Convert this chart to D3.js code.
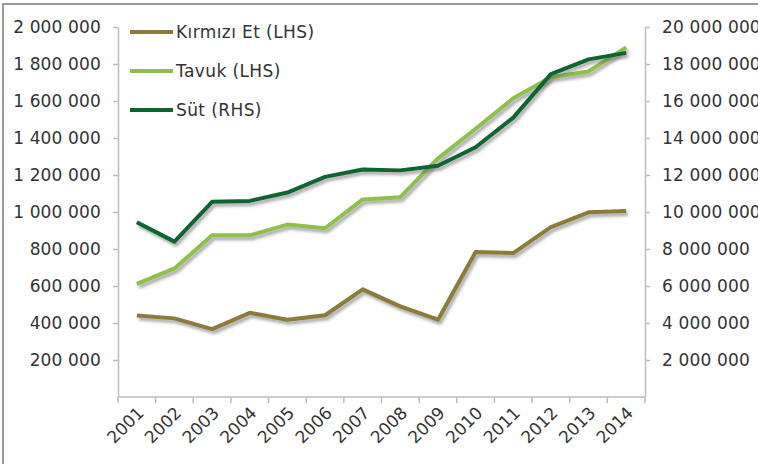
<!DOCTYPE html>
<html>
<head>
<meta charset="utf-8">
<script src="https://cdn.jsdelivr.net/npm/d3@7"></script>
<style>
  body { margin: 0; background: #fff; }
  text { font-family: 'DejaVu Sans', Verdana, sans-serif; fill: #333; }
</style>
</head>
<body>
<div id="chart"></div>
<script>
let years = ['2001', '2002', '2003', '2004', '2005', '2006', '2007',
  '2008', '2009', '2010', '2011', '2012', '2013', '2014']

let kirmiziEt = [440000, 425000, 367000, 455000, 418000, 442000, 582000,
  490000, 418000, 784000, 778000, 918000, 998000, 1005000]
let tavuk = [612000, 695000, 874000, 874000, 932000, 912000, 1068000,
  1080000, 1290000, 1450000, 1615000, 1728000, 1760000, 1890000]
let sut = [9450000, 8400000, 10550000, 10600000, 11050000, 11900000, 12300000,
  12250000, 12500000, 13500000, 15100000, 17450000, 18250000, 18600000]

let leftTicks = [200000, 400000, 600000, 800000, 1000000, 1200000, 1400000,
  1600000, 1800000, 2000000]
let rightTicks = [2000000, 4000000, 6000000, 8000000, 10000000, 12000000,
  14000000, 16000000, 18000000, 20000000]

let series = [
  { name: 'Kırmızı Et (LHS)', values: kirmiziEt, axis: 'left', color: '#8c7c3a' },
  { name: 'Tavuk (LHS)', values: tavuk, axis: 'left', color: '#8fc04d' },
  { name: 'Süt (RHS)', values: sut, axis: 'right', color: '#0b6630' }
]

let width = 758
let height = 464
let margin = { top: 27, left: 118, right: 113, bottom: 67 }

let svg = d3
  .select('#chart')
  .append('svg')
  .attr('width', width)
  .attr('height', height)

// frame
svg
  .append('rect')
  .attr('x', 3)
  .attr('y', 4)
  .attr('width', width + 10)
  .attr('height', height + 10)
  .attr('fill', 'none')
  .attr('stroke', '#9a9a9a')
  .attr('stroke-width', 2)

let defs = svg.append('defs')
defs
  .append('filter')
  .attr('id', 'shadow')
  .attr('x', '-10%')
  .attr('y', '-10%')
  .attr('width', '120%')
  .attr('height', '130%')
  .append('feDropShadow')
  .attr('dx', 2)
  .attr('dy', 3)
  .attr('stdDeviation', 1.6)
  .attr('flood-color', '#555')
  .attr('flood-opacity', 0.5)

let x = d3
  .scaleBand()
  .domain(years)
  .range([margin.left, width - margin.right])

let yLeft = d3
  .scaleLinear()
  .domain([0, 2000000])
  .range([height - margin.bottom, margin.top])

let yRight = d3
  .scaleLinear()
  .domain([0, 20000000])
  .range([height - margin.bottom, margin.top])

let fmt = d => d3.format(',')(d).replace(/,/g, ' ')

function styleAxis(g) {
  g.selectAll('path').attr('stroke', '#bdbdbd').attr('stroke-width', 1.5)
  g.selectAll('line').attr('stroke', '#bdbdbd').attr('stroke-width', 1.5)
  g.selectAll('text')
    .attr('font-size', 17)
    .attr('letter-spacing', 0.15)
    .attr('font-family', "'DejaVu Sans', Verdana, sans-serif")
    .attr('fill', '#333')
}

svg
  .append('g')
  .attr('transform', `translate(${margin.left},0)`)
  .call(
    d3.axisLeft(yLeft)
      .tickValues(leftTicks)
      .tickFormat(fmt)
      .tickSize(5)
      .tickPadding(12)
      .tickSizeOuter(0)
  )
  .call(styleAxis)

svg
  .append('g')
  .attr('transform', `translate(${width - margin.right},0)`)
  .call(
    d3.axisRight(yRight)
      .tickValues(rightTicks)
      .tickFormat(fmt)
      .tickSize(5)
      .tickPadding(12)
      .tickSizeOuter(0)
  )
  .call(styleAxis)

// bottom axis with ticks between categories
let bottom = height - margin.bottom
svg
  .append('line')
  .attr('x1', margin.left)
  .attr('x2', width - margin.right)
  .attr('y1', bottom)
  .attr('y2', bottom)
  .attr('stroke', '#bdbdbd')
  .attr('stroke-width', 1.5)

let boundaries = years.map(d => x(d)).concat([x.range()[1]])
svg
  .selectAll('.xtick')
  .data(boundaries)
  .enter()
  .append('line')
  .attr('class', 'xtick')
  .attr('x1', d => d)
  .attr('x2', d => d)
  .attr('y1', bottom)
  .attr('y2', bottom + 6)
  .attr('stroke', '#bdbdbd')
  .attr('stroke-width', 1.5)

svg
  .selectAll('.xlabel')
  .data(years)
  .enter()
  .append('text')
  .attr('class', 'xlabel')
  .text(d => d)
  .attr('text-anchor', 'end')
  .attr('font-size', 17)
  .attr('transform', d => {
    let cx = x(d) + x.bandwidth() / 2 + 8
    return `translate(${cx},${bottom + 17}) rotate(-45)`
  })

// lines
series.forEach(s => {
  let y = s.axis === 'left' ? yLeft : yRight
  let line = d3
    .line()
    .x((d, i) => x(years[i]) + x.bandwidth() / 2)
    .y(d => y(d))

  svg
    .append('path')
    .datum(s.values)
    .attr('d', line)
    .attr('fill', 'none')
    .attr('stroke', s.color)
    .attr('stroke-width', 4)
    .attr('stroke-linejoin', 'round')
    .attr('filter', 'url(#shadow)')
})

// legend
let legend = svg
  .selectAll('.legend')
  .data(series)
  .enter()
  .append('g')
  .attr('class', 'legend')
  .attr('transform', (d, i) => `translate(130,${32 + i * 39})`)

legend
  .append('line')
  .attr('x1', 0)
  .attr('x2', 43)
  .attr('stroke', d => d.color)
  .attr('stroke-width', 4)

legend
  .append('text')
  .text(d => d.name)
  .attr('x', 46)
  .attr('dy', '0.36em')
  .attr('font-size', 17)
  .attr('letter-spacing', 0.4)
</script>
</body>
</html>
